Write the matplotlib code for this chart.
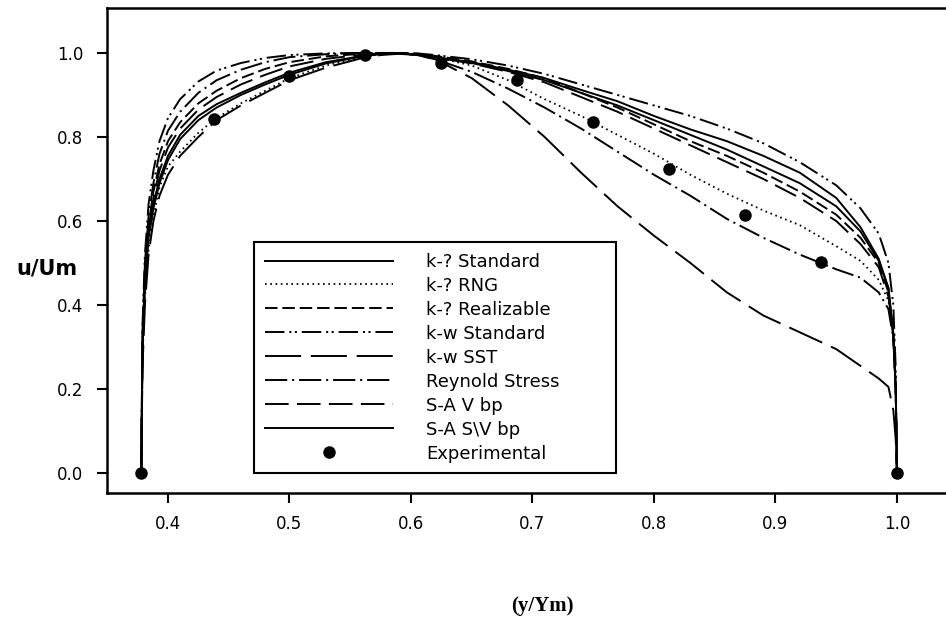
### Velocity profile u/Um across the channel, compared for several turbulence models
### plus the experimental points. Saves out.png

import matplotlib
matplotlib.use("Agg")
import matplotlib.pyplot as plt

plt.rcParams['font.family'] = ['DejaVu Sans']
plt.rcParams['lines.scale_dashes'] = False

# positions across the channel (y/Ym), shared by all model curves
y_pos = [0.378, 0.379, 0.381, 0.384, 0.388, 0.393, 0.40, 0.41, 0.425, 0.44, 0.46, 0.48,
         0.50, 0.53, 0.56, 0.575, 0.59, 0.605, 0.62, 0.65, 0.68, 0.71, 0.74, 0.77, 0.80, 0.83,
         0.86, 0.89, 0.92, 0.95, 0.97, 0.985, 0.993, 0.997, 0.999, 1.0]

ke_std = [0, 0.30, 0.46, 0.57, 0.64, 0.70, 0.755, 0.805, 0.85, 0.878, 0.905, 0.93,
          0.953, 0.978, 0.993, 0.998, 0.999, 0.996, 0.99, 0.978, 0.96, 0.94, 0.912, 0.885, 0.85, 0.818,
          0.79, 0.755, 0.715, 0.655, 0.585, 0.51, 0.44, 0.33, 0.20, 0]
ke_rng = [0, 0.27, 0.42, 0.53, 0.61, 0.68, 0.73, 0.765, 0.81, 0.845, 0.88, 0.91,
          0.94, 0.97, 0.99, 0.997, 0.999, 0.997, 0.99, 0.97, 0.935, 0.89, 0.85, 0.805, 0.76, 0.71,
          0.665, 0.625, 0.59, 0.54, 0.505, 0.46, 0.41, 0.33, 0.20, 0]
ke_real = [0, 0.32, 0.48, 0.59, 0.67, 0.735, 0.79, 0.835, 0.88, 0.91, 0.94, 0.962,
           0.978, 0.992, 0.998, 1.0, 1.0, 0.998, 0.993, 0.98, 0.962, 0.94, 0.905, 0.87, 0.83, 0.79,
           0.755, 0.715, 0.67, 0.615, 0.56, 0.50, 0.43, 0.33, 0.20, 0]
kw_std = [0, 0.35, 0.52, 0.64, 0.72, 0.79, 0.845, 0.89, 0.932, 0.958, 0.976, 0.988,
          0.995, 0.999, 1.0, 1.0, 1.0, 0.999, 0.995, 0.985, 0.97, 0.95, 0.925, 0.90, 0.875, 0.85,
          0.82, 0.785, 0.74, 0.685, 0.63, 0.57, 0.50, 0.40, 0.25, 0]
kw_sst = [0, 0.25, 0.40, 0.52, 0.60, 0.66, 0.71, 0.755, 0.80, 0.84, 0.875, 0.905,
          0.935, 0.965, 0.988, 0.995, 0.998, 0.995, 0.985, 0.94, 0.875, 0.80, 0.715, 0.635, 0.565, 0.50,
          0.43, 0.375, 0.335, 0.295, 0.255, 0.225, 0.205, 0.15, 0.08, 0]
rsm = [0, 0.33, 0.50, 0.61, 0.69, 0.76, 0.815, 0.86, 0.905, 0.935, 0.96, 0.978,
       0.99, 0.997, 1.0, 1.0, 0.999, 0.995, 0.985, 0.955, 0.915, 0.87, 0.82, 0.765, 0.71, 0.66,
       0.605, 0.56, 0.52, 0.485, 0.465, 0.43, 0.39, 0.32, 0.20, 0]
sa_v = [0, 0.31, 0.47, 0.58, 0.655, 0.72, 0.775, 0.82, 0.865, 0.895, 0.925, 0.948,
        0.968, 0.986, 0.996, 0.999, 1.0, 0.997, 0.99, 0.975, 0.955, 0.93, 0.895, 0.86, 0.82, 0.78,
        0.74, 0.70, 0.655, 0.60, 0.545, 0.49, 0.42, 0.33, 0.20, 0]
sa_swv = [0, 0.29, 0.45, 0.56, 0.63, 0.69, 0.745, 0.795, 0.84, 0.87, 0.90, 0.925,
          0.948, 0.975, 0.992, 0.997, 0.999, 0.996, 0.99, 0.976, 0.957, 0.935, 0.905, 0.875, 0.84, 0.805,
          0.77, 0.73, 0.69, 0.635, 0.575, 0.505, 0.44, 0.33, 0.20, 0]

exp_x = [0.378, 0.4375, 0.5, 0.5625, 0.625, 0.6875, 0.75, 0.8125, 0.875, 0.9375, 1.0]
exp_y = [0.0, 0.843, 0.945, 0.995, 0.975, 0.936, 0.836, 0.724, 0.614, 0.502, 0.0]

labels = ['k-? Standard', 'k-? RNG', 'k-? Realizable', 'k-w Standard', 'k-w SST',
          'Reynold Stress', 'S-A V bp', 'S-A S\\V bp', 'Experimental']

fig = plt.figure(figsize=(9.46, 6.19), dpi=100)
ax = fig.add_axes([107 / 946, 126 / 619, 853 / 946, 485 / 619])

lw = 1.4
ax.plot(y_pos, ke_std, color='black', lw=lw, ls='-', label=labels[0])
ax.plot(y_pos, ke_rng, color='black', lw=1.3, ls=(0, (1.2, 2.6)), label=labels[1])
ax.plot(y_pos, ke_real, color='black', lw=lw, ls=(0, (9, 3.5)), label=labels[2])
ax.plot(y_pos, kw_std, color='black', lw=lw, ls=(0, (14, 3.5, 1.5, 2.5, 1.5, 3.5)), label=labels[3])
ax.plot(y_pos, kw_sst, color='black', lw=lw, ls=(0, (26, 7)), label=labels[4])
ax.plot(y_pos, rsm, color='black', lw=lw, ls=(0, (16, 3.5, 1.5, 3.5)), label=labels[5])
ax.plot(y_pos, sa_v, color='black', lw=lw, ls=(0, (17, 6)), label=labels[6])
ax.plot(y_pos, sa_swv, color='black', lw=lw, ls='-', label=labels[7])
ax.plot(exp_x, exp_y, ls='none', marker='o', ms=8, color='black', label=labels[8])

ax.set_xlim(0.3498, 1.0519)
ax.set_ylim(-0.0476, 1.107)
ax.set_xticks([0.4, 0.5, 0.6, 0.7, 0.8, 0.9, 1.0])
ax.set_yticks([0.0, 0.2, 0.4, 0.6, 0.8, 1.0])
ax.set_xticklabels(['0.4', '0.5', '0.6', '0.7', '0.8', '0.9', '1.0'])
ax.set_yticklabels(['0.0', '0.2', '0.4', '0.6', '0.8', '1.0'])
ax.tick_params(direction='out', length=7, width=1.5, labelsize=12)
ax.tick_params(axis='y', pad=10)
ax.tick_params(axis='x', pad=9)
for s in ['left', 'bottom', 'top']:
    ax.spines[s].set_linewidth(1.8)
ax.spines['right'].set_visible(False)

fig.text(47 / 946, 1 - 268 / 619, 'u/Um', fontsize=15, fontweight='bold', ha='center', va='center')
fig.text(542 / 946, 1 - 606 / 619, '(y/Ym)', fontsize=15, fontweight='bold',
         family='Liberation Serif', ha='center', va='center')

# legend box: left 254 px, top ~242 px, 362 px wide
fs = 13
x0 = (254 - 107) / 853
y0 = (493 - 242) / 485
w = 362 / 853
h = 229 / 485
leg = ax.legend(loc='upper left', bbox_to_anchor=(x0, y0 - h, w, h), mode='expand',
                borderaxespad=0, fontsize=fs, handlelength=92 / fs, handletextpad=24 / fs,
                labelspacing=0.33, borderpad=0.6, fancybox=False, framealpha=1,
                edgecolor='black', numpoints=1)
leg.get_frame().set_linewidth(1.5)

fig.savefig('out.png', dpi=100)
